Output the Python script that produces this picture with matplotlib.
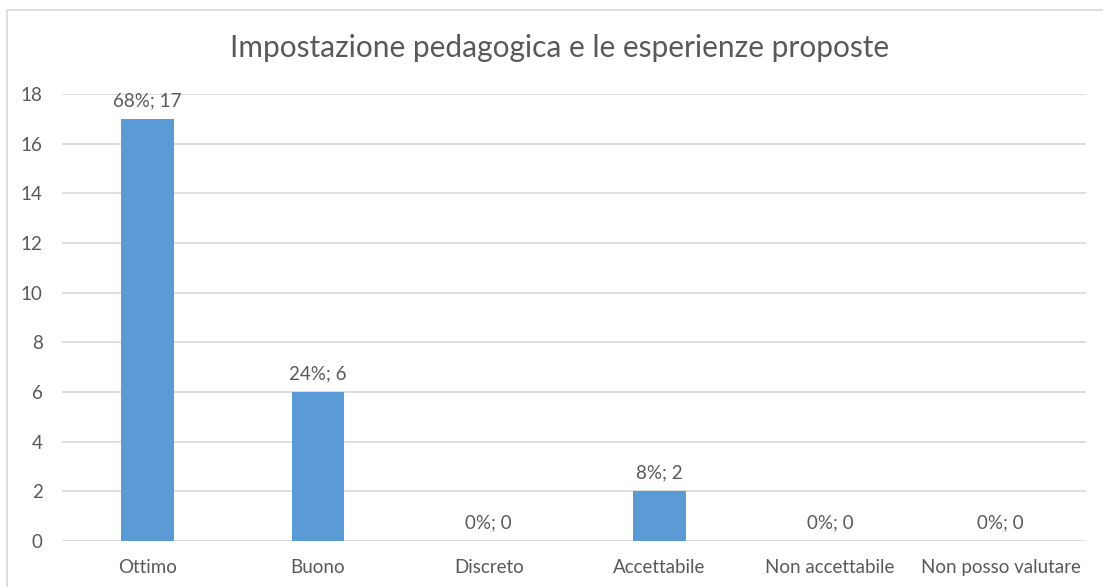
import matplotlib.pyplot as plt
from matplotlib.patches import Rectangle

categories = ["Ottimo", "Buono", "Discreto", "Accettabile", "Non accettabile", "Non posso valutare"]
counts = [17, 6, 0, 2, 0, 0]
percents = [68, 24, 0, 8, 0, 0]

TEXT = "#595959"
BAR = "#5B9BD5"
GRID = "#D9D9D9"

plt.rcParams["font.family"] = ["Lato", "DejaVu Sans"]

fig = plt.figure(figsize=(11.03, 5.87), dpi=100)
# chart-area border
fig.patches.append(Rectangle((7 / 1103, -0.1), 1.2, 1 - 10 / 587 + 0.1,
                             transform=fig.transFigure, fill=False,
                             edgecolor=GRID, linewidth=1.2))

ax = fig.add_axes([62 / 1103, 1 - 541 / 587, (1086 - 62) / 1103, (541 - 94) / 587])
x = range(len(categories))
ax.bar(x, counts, width=0.31, color=BAR, zorder=3)

ax.set_ylim(0, 18)
ax.set_xlim(-0.5, len(categories) - 0.5)
ax.set_yticks(range(0, 19, 2))
ax.set_xticks(list(x))
ax.set_xticklabels(categories)
ax.grid(axis="y", color=GRID, linewidth=1.2, zorder=0)
for s in ax.spines.values():
    s.set_visible(False)
ax.tick_params(length=0, labelsize=13.5, colors=TEXT)
ax.tick_params(axis="y", pad=14)
ax.tick_params(axis="x", pad=13)

for i, (c, p) in enumerate(zip(counts, percents)):
    ax.annotate(f"{p}%; {c}", (i, c), xytext=(0, 7), textcoords="offset points",
                ha="center", va="bottom", fontsize=13.5, color=TEXT)

fig.text(560 / 1103, 1 - 48 / 587, "Impostazione pedagogica e le esperienze proposte",
         ha="center", va="center", fontsize=21.5, color=TEXT)

fig.savefig("out.png", dpi=100)
